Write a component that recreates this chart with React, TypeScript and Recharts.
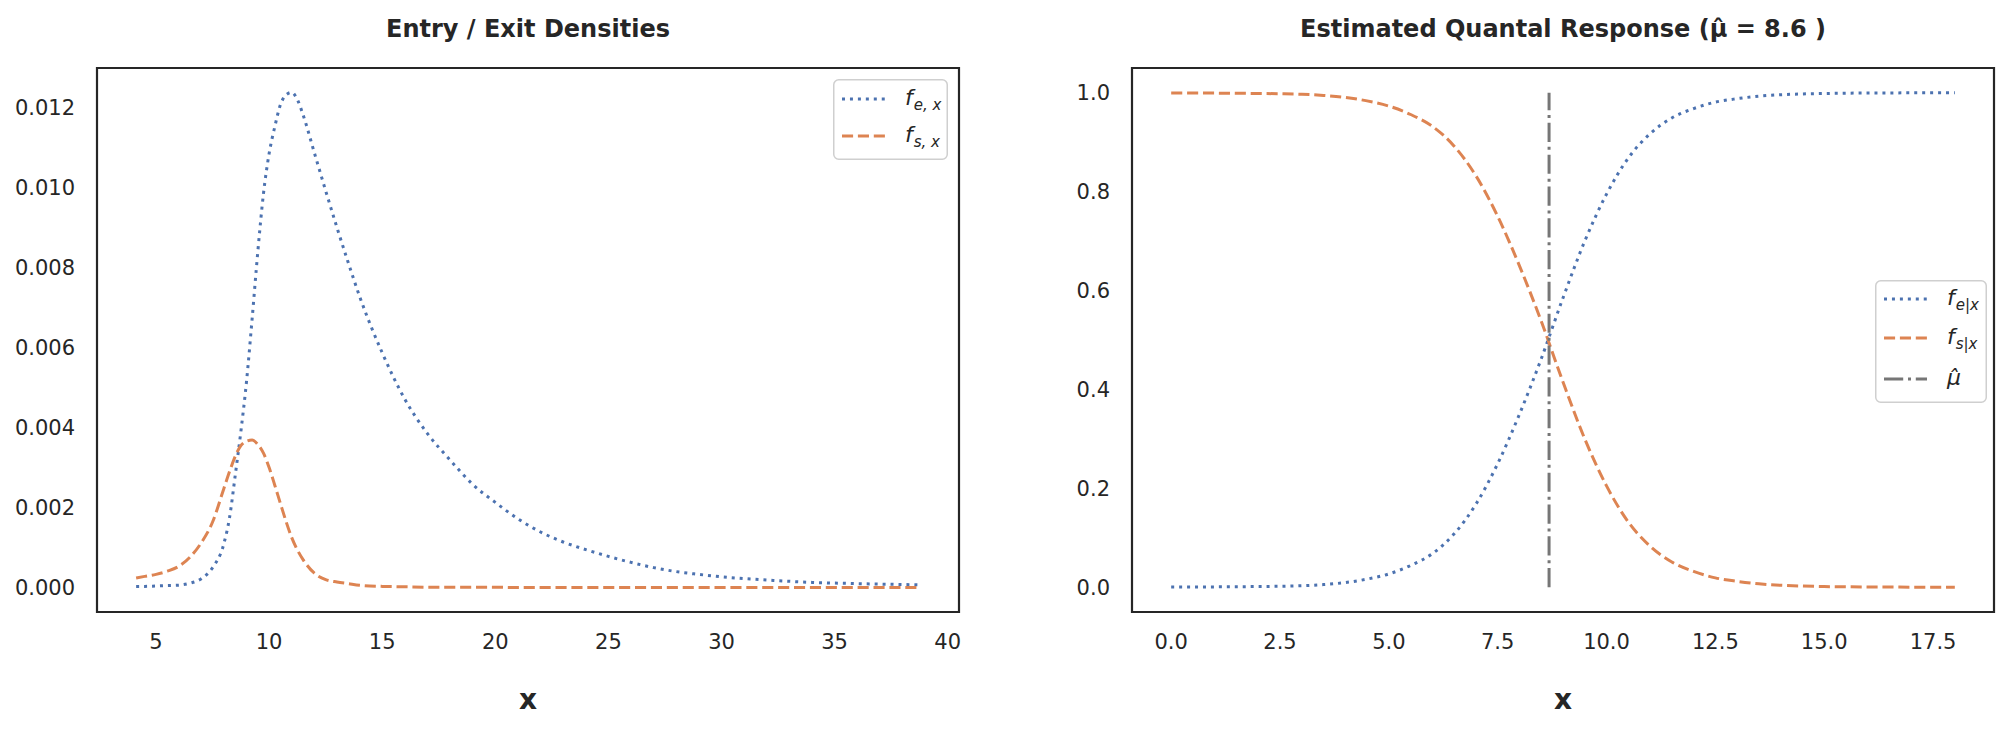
import React from 'react'
import { LineChart, Line, XAxis, YAxis, ReferenceArea, ReferenceLine } from 'recharts'

// left panel: entry / exit densities
const densityX = [
  4.12, 4.5, 5, 5.5, 6, 6.5, 7, 7.5, 8, 8.25, 8.5, 8.75, 9, 9.25, 9.5, 9.75, 10, 10.25, 10.5, 10.75,
  11, 11.25, 11.5, 12, 12.5, 13, 13.5, 14, 15, 16, 17, 18, 19, 20, 21, 22, 23, 24, 25, 26, 27, 28,
  29, 30, 32, 34, 36, 38.75,
]
const entryDensity = [
  0.00003, 0.00003, 0.00004, 0.00005, 0.00006, 0.00011, 0.00022, 0.0005, 0.0011, 0.00175, 0.0028,
  0.0039, 0.00515, 0.00673, 0.0084, 0.00985, 0.01085, 0.01152, 0.01207, 0.01232, 0.01238, 0.0122,
  0.01182, 0.01087, 0.00992, 0.009, 0.00812, 0.00728, 0.00587, 0.00471, 0.00385, 0.00319, 0.00258,
  0.00213, 0.00172, 0.00139, 0.00114, 0.00095, 0.00078, 0.00063, 0.0005, 0.0004, 0.00033, 0.00027,
  0.00019, 0.00013, 0.0001, 0.00007,
]
const exitDensity = [
  0.00024, 0.00028, 0.00033, 0.00041, 0.00053, 0.00076, 0.00112, 0.00164, 0.00248, 0.0029, 0.00328,
  0.00355, 0.00366, 0.00369, 0.00358, 0.00336, 0.003, 0.00256, 0.0021, 0.00165, 0.00125, 0.00094,
  0.0007, 0.00036, 0.0002, 0.00014, 0.0001, 0.00006, 0.00003, 0.00002, 0.00001, 0.00001, 0.00001,
  0.00001, 0, 0, 0, 0, 0, 0, 0, 0, 0, 0, 0, 0, 0, 0,
]
const densityXTicks = [5, 10, 15, 20, 25, 30, 35, 40]
const densityYTicks = [0, 0.002, 0.004, 0.006, 0.008, 0.01, 0.012]

// right panel: estimated quantal response
const quantalX = [
  0, 0.5, 1, 1.5, 2, 2.5, 3, 3.5, 4, 4.5, 5, 5.5, 6, 6.5, 7, 7.5, 8, 8.5, 9, 9.5, 10, 10.5, 11, 11.5,
  12, 12.5, 13, 13.5, 14, 14.5, 15, 15.5, 16, 16.5, 17, 17.5, 18,
]
const entryProb = [
  0.0005, 0.0006, 0.0008, 0.0011, 0.0015, 0.0021, 0.0031, 0.0055, 0.0095, 0.0165, 0.027, 0.044, 0.068,
  0.108, 0.168, 0.25, 0.35, 0.462, 0.585, 0.7, 0.795, 0.868, 0.917, 0.949, 0.968, 0.981, 0.988, 0.993,
  0.996, 0.9975, 0.9985, 0.9991, 0.9994, 0.9996, 0.9998, 0.9999, 0.9999,
]
const exitProb = [
  0.9995, 0.9994, 0.9992, 0.9989, 0.9985, 0.9979, 0.9969, 0.9945, 0.9905, 0.9835, 0.973, 0.956, 0.932,
  0.892, 0.832, 0.75, 0.65, 0.538, 0.415, 0.3, 0.205, 0.132, 0.083, 0.051, 0.032, 0.019, 0.012, 0.007,
  0.004, 0.0025, 0.0015, 0.0009, 0.0006, 0.0004, 0.0002, 0.0001, 0.0001,
]
const quantalXTicks = [0, 2.5, 5, 7.5, 10, 12.5, 15, 17.5]
const quantalYTicks = [0, 0.2, 0.4, 0.6, 0.8, 1]
const muHat = 8.68

const BLUE = '#4c72b0'
const ORANGE = '#dd8452'
const GREY = '#767676'
const INK = '#262626'
const FONT = '"DejaVu Sans", sans-serif'

const DOTTED = '3 4.95'
const DASHED = '11.1 4.8'
const DASHDOT = '19.2 4.8 3 4.8'

const tickStyle = { fill: INK, fontSize: 21, fontFamily: FONT }

const densityRows = densityX.map((x, i) => ({ x, fe: entryDensity[i], fs: exitDensity[i] }))
const quantalRows = quantalX.map((x, i) => ({ x, fe: entryProb[i], fs: exitProb[i] }))

function Text({ x, y, size, children, bold = true }: any) {
  return (
    <div
      style={{
        position: 'absolute',
        left: x,
        top: y,
        transform: 'translate(-50%, -50%)',
        fontFamily: FONT,
        fontWeight: bold ? 700 : 400,
        fontSize: size,
        lineHeight: 1,
        color: INK,
        whiteSpace: 'pre',
      }}
    >
      {children}
    </div>
  )
}

type Item = { color: string; dash: string; sym: string; sub?: string }

function Legend({ left, top, width, height, rows, items }: any) {
  return (
    <svg style={{ position: 'absolute', left, top }} width={width} height={height}>
      <rect
        x={0.75}
        y={0.75}
        width={width - 1.5}
        height={height - 1.5}
        rx={5}
        fill="#fff"
        fillOpacity={0.85}
        stroke="#cfcfcf"
        strokeWidth={1.5}
      />
      {items.map((it: Item, i: number) => (
        <g key={i}>
          <line x1={9} x2={52} y1={rows[i]} y2={rows[i]} stroke={it.color} strokeWidth={3} strokeDasharray={it.dash} />
          <text x={72} y={rows[i] + 6} fill={INK} fontFamily={FONT} fontStyle="italic">
            <tspan fontSize={22}>{it.sym}</tspan>
            {it.sub && (
              <tspan fontSize={15} dy={5} dx={1}>
                {it.sub}
              </tspan>
            )}
          </text>
        </g>
      ))}
    </svg>
  )
}

function DensityPanel() {
  const xd: [number, number] = [2.39, 40.5]
  const yd: [number, number] = [-0.00061, 0.01299]
  return (
    <LineChart
      width={1004}
      height={729}
      data={densityRows}
      margin={{ top: 68, right: 45, bottom: 57, left: 7 }}
    >
      <XAxis
        type="number"
        dataKey="x"
        domain={xd}
        ticks={densityXTicks}
        allowDataOverflow
        interval={0}
        height={60}
        axisLine={false}
        tickLine={false}
        tickSize={0}
        tickMargin={22}
        tick={tickStyle}
      />
      <YAxis
        type="number"
        domain={yd}
        ticks={densityYTicks}
        allowDataOverflow
        interval={0}
        width={90}
        axisLine={false}
        tickLine={false}
        tickSize={0}
        tickMargin={22}
        tick={tickStyle}
        tickFormatter={(v: number) => v.toFixed(3)}
      />
      <Line
        type="monotone"
        dataKey="fe"
        stroke={BLUE}
        strokeWidth={3}
        strokeDasharray={DOTTED}
        dot={false}
        activeDot={false}
        isAnimationActive={false}
      />
      <Line
        type="monotone"
        dataKey="fs"
        stroke={ORANGE}
        strokeWidth={3}
        strokeDasharray={DASHED}
        dot={false}
        activeDot={false}
        isAnimationActive={false}
      />
      <ReferenceArea x1={xd[0]} x2={xd[1]} y1={yd[0]} y2={yd[1]} fill="none" stroke={INK} strokeWidth={2.2} />
    </LineChart>
  )
}

function QuantalPanel() {
  const xd: [number, number] = [-0.9, 18.9]
  const yd: [number, number] = [-0.05, 1.05]
  return (
    <LineChart
      width={1004}
      height={729}
      data={quantalRows}
      margin={{ top: 68, right: 14, bottom: 57, left: 38 }}
    >
      <XAxis
        type="number"
        dataKey="x"
        domain={xd}
        ticks={quantalXTicks}
        allowDataOverflow
        interval={0}
        height={60}
        axisLine={false}
        tickLine={false}
        tickSize={0}
        tickMargin={22}
        tick={tickStyle}
        tickFormatter={(v: number) => v.toFixed(1)}
      />
      <YAxis
        type="number"
        domain={yd}
        ticks={quantalYTicks}
        allowDataOverflow
        interval={0}
        width={90}
        axisLine={false}
        tickLine={false}
        tickSize={0}
        tickMargin={22}
        tick={tickStyle}
        tickFormatter={(v: number) => v.toFixed(1)}
      />
      <Line
        type="monotone"
        dataKey="fe"
        stroke={BLUE}
        strokeWidth={3}
        strokeDasharray={DOTTED}
        dot={false}
        activeDot={false}
        isAnimationActive={false}
      />
      <Line
        type="monotone"
        dataKey="fs"
        stroke={ORANGE}
        strokeWidth={3}
        strokeDasharray={DASHED}
        dot={false}
        activeDot={false}
        isAnimationActive={false}
      />
      <ReferenceLine
        segment={[
          { x: muHat, y: 0 },
          { x: muHat, y: 1 },
        ]}
        stroke={GREY}
        strokeWidth={3}
        strokeDasharray={DASHDOT}
      />
      <ReferenceArea x1={xd[0]} x2={xd[1]} y1={yd[0]} y2={yd[1]} fill="none" stroke={INK} strokeWidth={2.2} />
    </LineChart>
  )
}

export default function App() {
  return (
    <div style={{ position: 'absolute', left: 0, top: 0, width: 2008, height: 729, background: '#fff', overflow: 'hidden' }}>
      <div style={{ position: 'absolute', left: 0, top: 0 }}>
        <DensityPanel />
      </div>
      <div style={{ position: 'absolute', left: 1004, top: 0 }}>
        <QuantalPanel />
      </div>
      <Text x={528} y={29} size={24}>
        Entry / Exit Densities
      </Text>
      <Text x={1563} y={29} size={24}>
        {'Estimated Quantal Response (\u03bc\u0302 = 8.6 )'}
      </Text>
      <Text x={528} y={700} size={28}>
        x
      </Text>
      <Text x={1563} y={700} size={28}>
        x
      </Text>
      <Legend
        left={833}
        top={79}
        width={115}
        height={81}
        rows={[20, 57]}
        items={[
          { color: BLUE, dash: DOTTED, sym: 'f', sub: 'e, x' },
          { color: ORANGE, dash: DASHED, sym: 'f', sub: 's, x' },
        ]}
      />
      <Legend
        left={1875}
        top={280}
        width={112}
        height={123}
        rows={[19, 58, 99]}
        items={[
          { color: BLUE, dash: DOTTED, sym: 'f', sub: 'e|x' },
          { color: ORANGE, dash: DASHED, sym: 'f', sub: 's|x' },
          { color: GREY, dash: DASHDOT, sym: '\u03bc\u0302' },
        ]}
      />
    </div>
  )
}
